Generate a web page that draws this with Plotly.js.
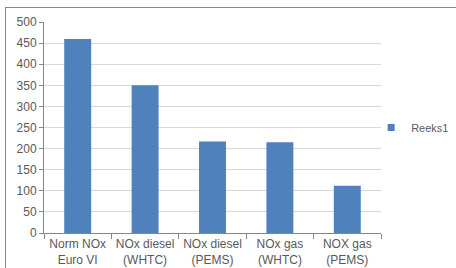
<!DOCTYPE html>
<html>
<head>
<meta charset="utf-8">
<script src="https://cdn.plot.ly/plotly-3.0.1.min.js"></script>
<style>
  html, body { margin: 0; padding: 0; background: #ffffff; overflow: hidden; }
  #wrap { position: relative; width: 456px; height: 268px; }
  #chart { position: absolute; left: 0; top: 0; width: 456px; height: 268px; }
  #frame { position: absolute; left: 5px; top: 7px; width: 470px; height: 290px; border: 1px solid #8a8a8a; pointer-events: none; }
</style>
</head>
<body>
<div id="wrap">
  <div id="chart"></div>
  <div id="frame"></div>
</div>
<script>
const categories = ["Norm NOx<br>Euro VI", "NOx diesel<br>(WHTC)", "NOx diesel<br>(PEMS)", "NOx gas<br>(WHTC)", "NOX gas<br>(PEMS)"];
const seriesName = "Reeks1";
const values = [460, 350, 217, 215, 112];
const yTicks = [0, 50, 100, 150, 200, 250, 300, 350, 400, 450, 500];

const font = { family: "Liberation Sans, Arial, sans-serif", size: 12, color: "#595959" };
const barColor = "#4f81bd";

const barTrace = {
  type: "bar",
  x: categories,
  y: values,
  name: seriesName,
  marker: { color: barColor },
  showlegend: false,
  hoverinfo: "none"
};

const legendTrace = {
  type: "scatter",
  mode: "markers",
  x: [null],
  y: [null],
  name: seriesName,
  marker: { symbol: "square", size: 7, color: barColor },
  showlegend: true,
  hoverinfo: "none"
};

const layout = {
  width: 456,
  height: 268,
  margin: { l: 44, r: 75, t: 22, b: 35, autoexpand: false },
  paper_bgcolor: "rgba(0,0,0,0)",
  plot_bgcolor: "#ffffff",
  font: font,
  bargap: 0.6,
  showlegend: true,
  legend: {
    x: 1.217, xanchor: "right", y: 0.5, yanchor: "middle",
    font: { family: font.family, size: 11, color: "#595959" },
    bgcolor: "rgba(0,0,0,0)"
  },
  xaxis: {
    type: "category",
    showgrid: false,
    zeroline: false,
    showline: true,
    linecolor: "#868686",
    linewidth: 1,
    ticks: "outside",
    tickson: "boundaries",
    ticklen: 5,
    tickcolor: "#868686",
    tickfont: font,
    tickangle: 0,
    automargin: false,
    fixedrange: true
  },
  yaxis: {
    range: [0, 500],
    tickvals: yTicks,
    ticktext: yTicks.map(String),
    showgrid: true,
    gridcolor: "#d9d9d9",
    gridwidth: 1,
    zeroline: false,
    showline: true,
    linecolor: "#868686",
    linewidth: 1,
    ticks: "outside",
    ticklen: 4,
    tickcolor: "#868686",
    tickfont: font,
    automargin: false,
    fixedrange: true
  }
};

Plotly.newPlot("chart", [barTrace, legendTrace], layout, { staticPlot: true, displayModeBar: false });
</script>
</body>
</html>
